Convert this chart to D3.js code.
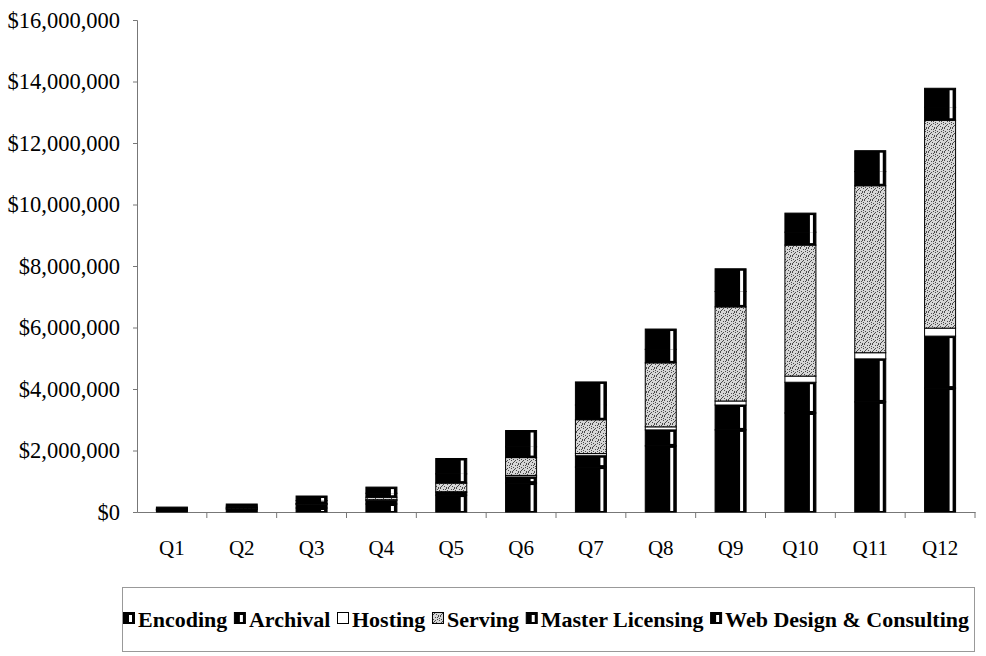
<!DOCTYPE html>
<html>
<head>
<meta charset="utf-8">
<script src="https://cdn.jsdelivr.net/npm/d3@7"></script>
<style>
  body { margin: 0; background: #fff; }
  svg { display: block; }
</style>
</head>
<body>
<svg id="chart" width="986" height="656"></svg>
<script>
// Quarterly revenue by business line (US$)
const quarters = ["Q1", "Q2", "Q3", "Q4", "Q5", "Q6", "Q7", "Q8", "Q9", "Q10", "Q11", "Q12"];
const encoding        = [50000, 80000, 130000, 260000, 550000, 940000, 1460000, 2150000, 2670000, 3220000, 3580000, 4030000];
const archival        = [20000, 40000, 120000, 120000, 80000, 200000, 370000, 520000, 810000, 1000000, 1400000, 1690000];
const hosting         = [3000, 5000, 10000, 20000, 30000, 50000, 70000, 100000, 130000, 200000, 200000, 260000];
const serving         = [7000, 15000, 20000, 80000, 280000, 580000, 1100000, 2080000, 3060000, 4260000, 5430000, 6760000];
const masterLicensing = [30000, 50000, 90000, 130000, 300000, 350000, 480000, 440000, 500000, 420000, 460000, 420000];
const webDesign       = [50000, 70000, 150000, 200000, 500000, 530000, 750000, 660000, 740000, 620000, 680000, 620000];
const seriesNames = ["Encoding", "Archival", "Hosting", "Serving", "Master Licensing", "Web Design & Consulting"];
const yTickValues = [0, 2000000, 4000000, 6000000, 8000000, 10000000, 12000000, 14000000, 16000000];

const seriesValues = [encoding, archival, hosting, serving, masterLicensing, webDesign];

// Fill style per series: "black" = solid with a light stripe, "white", "stipple"
const seriesStyle = [
  { fill: "black", padTop: 2, padBottom: 1 },
  { fill: "black", padTop: 2, padBottom: 2 },
  { fill: "white" },
  { fill: "stipple" },
  { fill: "black", padTop: 0, padBottom: 2 },
  { fill: "black", padTop: 2, padBottom: 0 }
];

const svg = d3.select("#chart");
const margin = { left: 137, right: 975, top: 20, bottom: 512 };
const serif = "'Liberation Serif', 'Times New Roman', serif";

// Stipple texture for the Serving series
const defs = svg.append("defs");
const pat = defs.append("pattern")
  .attr("id", "stipple")
  .attr("patternUnits", "userSpaceOnUse")
  .attr("width", 8).attr("height", 8);
pat.append("rect").attr("width", 8).attr("height", 8).attr("fill", "#d6d6d6");
[[0,0],[3,1],[6,0],[1,3],[5,3],[7,4],[2,5],[4,6],[0,7],[6,7],[3,4],[5,1],[1,6],[7,2]].forEach(([dx, dy]) => {
  pat.append("rect").attr("x", dx).attr("y", dy).attr("width", 1).attr("height", 1).attr("fill", "#4a4a4a");
});

// Stack the series
const table = quarters.map((q, i) => {
  const row = { quarter: q };
  seriesNames.forEach((name, s) => { row[name] = seriesValues[s][i]; });
  return row;
});
const stacked = d3.stack().keys(seriesNames)(table);

const x = d3.scaleBand()
  .domain(quarters)
  .range([margin.left, margin.right])
  .paddingInner(0.556)
  .paddingOuter(0.278);

const y = d3.scaleLinear()
  .domain([0, 16000000])
  .range([margin.bottom, margin.top]);

// Y axis
const yAxis = svg.append("g")
  .attr("transform", `translate(${margin.left},0)`)
  .call(d3.axisLeft(y).tickValues(yTickValues).tickSize(4).tickPadding(13)
    .tickFormat(d => "$" + d3.format(",")(d)));
yAxis.select(".domain").attr("stroke", "#777");
yAxis.selectAll(".tick line").attr("stroke", "#777");
yAxis.selectAll("text")
  .attr("font-family", serif).attr("font-size", 22.5).attr("fill", "#000");

// X axis
const xAxis = svg.append("g")
  .attr("transform", `translate(0,${margin.bottom})`)
  .call(d3.axisBottom(x).tickSize(0).tickPadding(28));
xAxis.select(".domain").attr("stroke", "#777");
xAxis.selectAll("text")
  .attr("font-family", serif).attr("font-size", 21).attr("fill", "#000");
// separator ticks between categories
const step = x.step();
svg.append("g").selectAll("line")
  .data(quarters)
  .join("line")
  .attr("x1", (d, i) => margin.left + (i + 1) * step)
  .attr("x2", (d, i) => margin.left + (i + 1) * step)
  .attr("y1", margin.bottom)
  .attr("y2", margin.bottom + 6)
  .attr("stroke", "#777");

// Bars
const bw = x.bandwidth();
const segGroups = svg.append("g").selectAll("g")
  .data(stacked)
  .join("g");

segGroups.selectAll("rect")
  .data((layer, s) => layer.map(d => ({ d, s, q: d.data.quarter })))
  .join("rect")
  .attr("x", o => x(o.q))
  .attr("y", o => y(o.d[1]))
  .attr("width", bw)
  .attr("height", o => Math.max(0, y(o.d[0]) - y(o.d[1])))
  .attr("fill", o => {
    const f = seriesStyle[o.s].fill;
    return f === "black" ? "#000" : f === "white" ? "#fff" : "url(#stipple)";
  })
  .attr("stroke", "#000")
  .attr("stroke-width", 1);

// Light stripe inside the dark segments
const stripes = [];
stacked.forEach((layer, s) => {
  const st = seriesStyle[s];
  if (st.fill !== "black") return;
  layer.forEach(d => {
    const top = y(d[1]) + st.padTop;
    const bot = y(d[0]) - st.padBottom;
    if (bot - top > 0.5) stripes.push({ q: d.data.quarter, top, bot });
  });
});
svg.append("g").selectAll("rect")
  .data(stripes)
  .join("rect")
  .attr("x", o => x(o.q) + bw - 6)
  .attr("y", o => o.top)
  .attr("width", 3)
  .attr("height", o => o.bot - o.top)
  .attr("fill", "#fff");

// Legend
const legend = svg.append("g");
legend.append("rect")
  .attr("x", 122.5).attr("y", 587.5)
  .attr("width", 852).attr("height", 64)
  .attr("fill", "none").attr("stroke", "#999");

const legY = 627;
const iconSize = 12;
const iconGap = 3;
const items = legend.selectAll("g.item")
  .data(seriesNames)
  .join("g")
  .attr("class", "item");
items.append("text")
  .attr("font-family", serif)
  .attr("font-size", 22)
  .attr("font-weight", "bold")
  .attr("fill", "#000")
  .attr("y", legY)
  .text(d => d);

const widths = [];
items.select("text").each(function () { widths.push(this.getComputedTextLength()); });
const startX = 123, endX = 969;
const used = d3.sum(widths) + seriesNames.length * (iconSize + iconGap);
const gap = (endX - startX - used) / (seriesNames.length - 1);
let cx = startX;
items.each(function (d, i) {
  const g = d3.select(this);
  const st = seriesStyle[i];
  g.append("rect")
    .attr("x", cx + 0.5).attr("y", legY - 14.5)
    .attr("width", iconSize - 1).attr("height", iconSize - 1)
    .attr("fill", st.fill === "black" ? "#000" : st.fill === "white" ? "#fff" : "url(#stipple)")
    .attr("stroke", "#000");
  if (st.fill === "black") {
    g.append("rect")
      .attr("x", cx + iconSize - 6).attr("y", legY - 12)
      .attr("width", 3).attr("height", iconSize - 5)
      .attr("fill", "#fff");
  }
  g.select("text").attr("x", cx + iconSize + iconGap);
  cx += iconSize + iconGap + widths[i] + gap;
});
</script>
</body>
</html>
